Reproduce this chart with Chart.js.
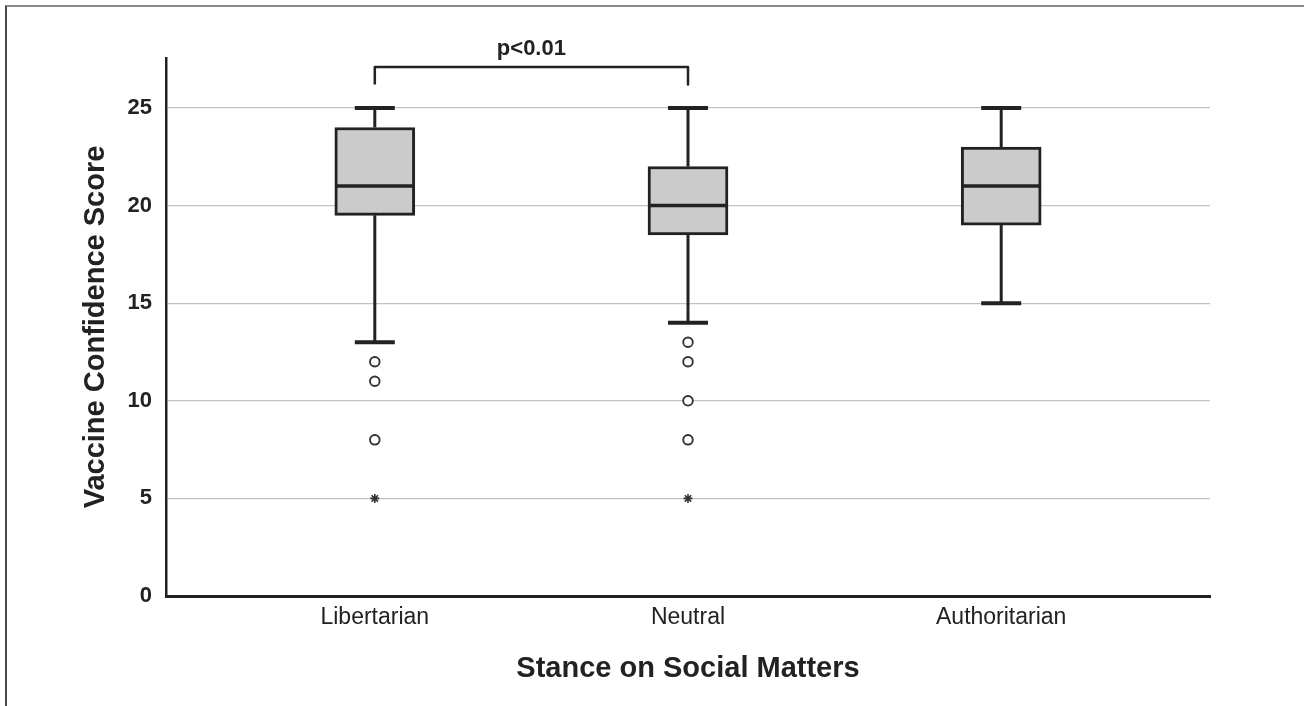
<!DOCTYPE html>
<html>
<head>
<meta charset="utf-8">
<script src="https://cdn.jsdelivr.net/npm/chart.js@4/dist/chart.umd.min.js"></script>
<style>
  body { margin: 0; background: #fff; }
  #frame { position: absolute; left: 5px; top: 5px; width: 1299px; height: 701px;
           border-top: 2px solid #8a8a8a; border-left: 2px solid #4a4a4a; pointer-events: none; }
  canvas { position: absolute; left: 0; top: 0; }
</style>
</head>
<body>
<canvas id="boxChart" width="1304" height="706"></canvas>
<div id="frame"></div>
<script>
const categories = ['Libertarian', 'Neutral', 'Authoritarian'];
const whiskerLow = [13, 14, 15];
const q1 = [19.5, 18.5, 19];
const median = [21, 20, 21];
const q3 = [24, 22, 23];
const whiskerHigh = [25, 25, 25];
const outliers = [[12, 11, 8], [13, 12, 10, 8], []];
const extremes = [[5], [5], []];
const yTicks = [0, 5, 10, 15, 20, 25];
const bracketFrom = 0, bracketTo = 1;
const bracketTop = 27.1, bracketFoot = 26.2;
const bracketLabel = 'p<0.01';

const ink = '#222222';
const fontFamily = '"Liberation Sans", Arial, sans-serif';

// scatter points for the outliers, one x per category index
const outlierPoints = [];
outliers.forEach((list, i) => list.forEach((v) => outlierPoints.push({x: i, y: v})));
const extremePoints = [];
extremes.forEach((list, i) => list.forEach((v) => extremePoints.push({x: i, y: v})));

// whiskers, caps and median lines, placed through the chart scales
const boxExtras = {
  id: 'boxExtras',
  afterDatasetsDraw(chart) {
    const {ctx, scales: {x, y}} = chart;
    ctx.save();
    ctx.strokeStyle = ink;
    ctx.lineCap = 'butt';
    categories.forEach((c, i) => {
      const cx = x.getPixelForValue(i);
      ctx.lineWidth = 3;
      ctx.beginPath();
      ctx.moveTo(cx, y.getPixelForValue(whiskerLow[i]));
      ctx.lineTo(cx, y.getPixelForValue(q1[i]));
      ctx.moveTo(cx, y.getPixelForValue(q3[i]));
      ctx.lineTo(cx, y.getPixelForValue(whiskerHigh[i]));
      ctx.stroke();
      ctx.lineWidth = 4;
      ctx.beginPath();
      [whiskerLow[i], whiskerHigh[i]].forEach((v) => {
        const py = y.getPixelForValue(v);
        ctx.moveTo(cx - 20, py);
        ctx.lineTo(cx + 20, py);
      });
      ctx.stroke();
      ctx.lineWidth = 3.5;
      ctx.beginPath();
      const my = y.getPixelForValue(median[i]);
      ctx.moveTo(cx - 39, my);
      ctx.lineTo(cx + 39, my);
      ctx.stroke();
    });
    // significance label above the bracket
    ctx.fillStyle = ink;
    ctx.font = 'bold 22px ' + fontFamily;
    ctx.textAlign = 'center';
    ctx.textBaseline = 'alphabetic';
    ctx.fillText(bracketLabel, x.getPixelForValue((bracketFrom + bracketTo) / 2),
      y.getPixelForValue(bracketTop) - 12);
    ctx.restore();
  }
};

new Chart(document.getElementById('boxChart'), {
  type: 'bar',
  data: {
    datasets: [
      {
        type: 'bar',
        data: categories.map((c, i) => ({x: i, y: [q1[i], q3[i]]})),
        backgroundColor: '#cbcbcb',
        borderColor: ink,
        borderWidth: 3,
        borderSkipped: false,
        barThickness: 80,
        order: 3
      },
      {
        type: 'scatter',
        data: outlierPoints,
        pointStyle: 'circle',
        pointRadius: 4.8,
        backgroundColor: '#ffffff',
        borderColor: '#333333',
        borderWidth: 1.9,
        order: 1
      },
      {
        type: 'scatter',
        data: extremePoints,
        pointStyle: 'star',
        pointRadius: 4.5,
        borderColor: '#333333',
        borderWidth: 1.6,
        order: 1
      },
      {
        type: 'line',
        data: [
          {x: bracketFrom, y: bracketFoot}, {x: bracketFrom, y: bracketTop},
          {x: bracketTo, y: bracketTop}, {x: bracketTo, y: bracketFoot}
        ],
        borderColor: ink,
        borderWidth: 2.5,
        pointRadius: 0,
        fill: false,
        tension: 0,
        borderJoinStyle: 'round',
        order: 0
      }
    ]
  },
  options: {
    responsive: false,
    animation: false,
    events: [],
    layout: {padding: {left: 0, top: 58, right: 94, bottom: 0}},
    plugins: {legend: {display: false}, tooltip: {enabled: false}},
    scales: {
      x: {
        type: 'linear',
        min: -2 / 3,
        max: 8 / 3,
        offset: false,
        afterBuildTicks(scale) {
          scale.ticks = categories.map((c, i) => ({value: i}));
        },
        afterFit(scale) { scale.height = 110; },
        ticks: {
          callback: (v) => categories[v],
          color: ink,
          font: {family: fontFamily, size: 23},
          padding: 8,
          maxRotation: 0
        },
        grid: {display: false, drawTicks: false},
        border: {display: true, color: ink, width: 3},
        title: {
          display: true,
          text: 'Stance on Social Matters',
          color: ink,
          font: {family: fontFamily, size: 29, weight: 'bold'},
          padding: {top: 0, bottom: 20}
        }
      },
      y: {
        min: 0,
        max: 27.56,
        afterBuildTicks(scale) {
          scale.ticks = yTicks.map((v) => ({value: v}));
        },
        afterFit(scale) { scale.width = 166; },
        ticks: {
          color: ink,
          font: {family: fontFamily, size: 22, weight: 'bold'},
          padding: 14
        },
        grid: {color: '#c2c2c2', lineWidth: 1.2, drawTicks: false},
        border: {display: true, color: ink, width: 2.5},
        title: {
          display: true,
          text: 'Vaccine Confidence Score',
          color: ink,
          font: {family: fontFamily, size: 29, weight: 'bold'},
          padding: {top: 79, bottom: 0}
        }
      }
    }
  },
  plugins: [boxExtras]
});
</script>
</body>
</html>
